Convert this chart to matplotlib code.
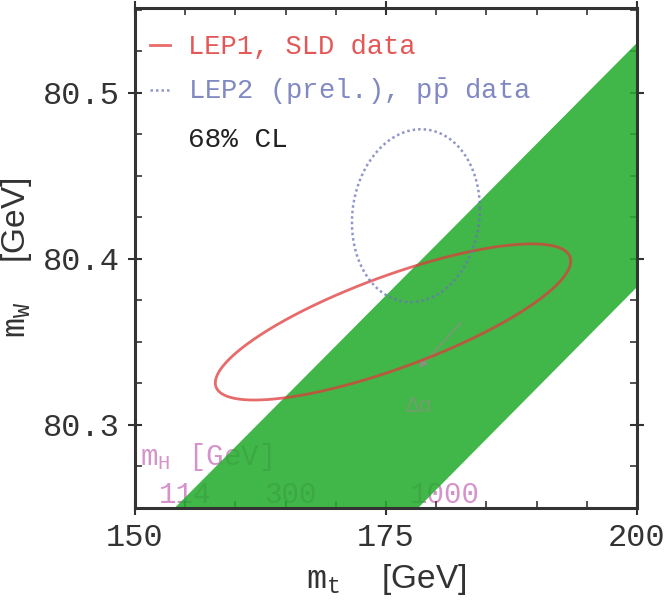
import matplotlib
matplotlib.use("Agg")
import matplotlib.pyplot as plt
import numpy as np
from matplotlib.ticker import MultipleLocator

plt.rcParams["font.family"] = ["Liberation Mono", "DejaVu Sans Mono"]
plt.rcParams["mathtext.fontset"] = "custom"
plt.rcParams["mathtext.rm"] = "Liberation Mono"
plt.rcParams["mathtext.it"] = "Liberation Mono"
plt.rcParams["mathtext.sf"] = "Liberation Sans"

# mH band edges (straight lines across the mt range)
mt_band = [150.0, 200.0]
mw_mh114 = [80.226, 80.530]
mw_mh1000 = [80.078, 80.383]

# 68% CL ellipses: centre, half widths, correlation
lep1_centre = (175.7, 80.362)
lep1_half = (17.7, 0.047)
lep1_rho = 0.78

lep2_centre = (177.98, 80.426)
lep2_half = (6.37, 0.052)
lep2_rho = 0.08

# mH labels (text, mt, mW)
mh_title = (r"$\mathrm{m_H}$ [GeV]", 150.5, 80.276)
mh_labels = [("114", 152.4, 80.253), ("300", 162.9, 80.253), ("1000", 177.4, 80.253)]

green = "#27ac30"
red = "#e03a3a"
blue = "#6a74b8"
pink = "#c566b5"


def ellipse(centre, half, rho, n=400):
    t = np.linspace(0, 2 * np.pi, n)
    x = centre[0] + half[0] * np.cos(t)
    y = centre[1] + half[1] * (rho * np.cos(t) + np.sqrt(1 - rho ** 2) * np.sin(t))
    return x, y


fig = plt.figure(figsize=(6.65, 6.14), dpi=100)
ax = fig.add_axes([135 / 665, 106 / 614, 502 / 665, 500 / 614])

for txt, x, y in [mh_title] + mh_labels:
    ax.text(x, y, txt, color=pink, alpha=0.7, fontsize=21, zorder=1)

ax.fill_between(mt_band, mw_mh1000, mw_mh114, color=green, alpha=0.88, lw=0, zorder=2)

# faint delta-alpha arrow
ax.annotate("", xy=(178.1, 80.333), xytext=(182.7, 80.363),
            arrowprops=dict(arrowstyle="-|>", color="#a08890", alpha=0.5, lw=1.5), zorder=2)
ax.text(177.0, 80.308, "Δα", color="#a08890", alpha=0.5, fontsize=16, zorder=2)

x1, y1 = ellipse(lep1_centre, lep1_half, lep1_rho)
ax.plot(x1, y1, color=red, lw=2.0, alpha=0.75, zorder=3, label="LEP1, SLD data")
x2, y2 = ellipse(lep2_centre, lep2_half, lep2_rho)
ax.plot(x2, y2, color=blue, lw=1.8, ls=(0, (1, 1.2)), alpha=0.75, zorder=3,
        label=r"LEP2 (prel.), p$\bar{\mathrm{p}}$ data")

leg = ax.legend(loc="upper left", bbox_to_anchor=(0.030, 0.948), frameon=False,
                fontsize=19.5, handlelength=0.75, handletextpad=0.65,
                labelspacing=0.62, borderaxespad=0, borderpad=0,
                labelcolor="linecolor")
for t in leg.get_texts():
    t.set_alpha(0.85)
ax.text(0.105, 0.722, "68% CL", transform=ax.transAxes, fontsize=20, color="#222222")

ax.set_xlim(150, 200)
ax.set_ylim(80.25, 80.551)
ax.set_xticks([150, 175, 200])
ax.set_yticks([80.3, 80.4, 80.5])
ax.xaxis.set_minor_locator(MultipleLocator(5))
ax.yaxis.set_minor_locator(MultipleLocator(0.025))
ax.tick_params(which="major", direction="inout", length=10, width=1.5,
               labelsize=23, colors="#333333", top=True, right=True, pad=6)
ax.tick_params(which="minor", direction="in", length=5, width=1.2,
               colors="#333333", top=True, right=True)
for s in ax.spines.values():
    s.set_linewidth(2.2)
    s.set_color("#333333")

ax.set_xlabel(r"$\mathrm{m_t}$  $\mathsf{[GeV]}$", fontsize=24, color="#333333", labelpad=6)
ax.set_ylabel(r"$\mathrm{m_W}$  $\mathsf{[GeV]}$", fontsize=24, color="#333333", labelpad=6)

fig.savefig("out.png", dpi=100)
